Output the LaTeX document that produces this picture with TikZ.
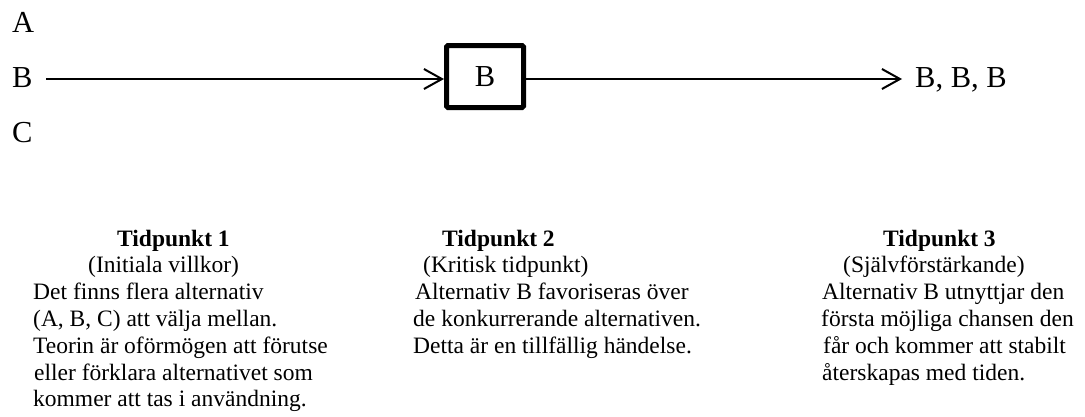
\documentclass[tikz,border=0pt]{standalone}
\usepackage{fontspec}
\setmainfont{Liberation Serif}
\usetikzlibrary{arrows.meta}
\begin{document}
\begin{tikzpicture}[x=1pt,y=-1pt,
  big/.style={font=\fontsize{30.5}{36}\selectfont, inner sep=0pt, anchor=base west},
  ln/.style={font=\fontsize{23.5}{27}\selectfont, inner sep=0pt, anchor=base west},
  ttl/.style={inner sep=0pt, anchor=base west, font=\fontsize{23.5}{27}\selectfont\bfseries},
  arr/.style={line width=2pt, -{Straight Barb[length=18pt,width=20pt]}},
  stage/.style={draw, line width=5pt, rounded corners=1.5pt, minimum width=77pt,
    minimum height=62pt, inner sep=0pt, font=\fontsize{30.5}{36}\selectfont}
]
\useasboundingbox (0,0) rectangle (1085,416);

% alternatives at the start
\node[big] (la) at (12,32) {A};
\node[big] (lb) at (12,87) {B};
\node[big] (lc) at (12,142.5) {C};

% the selected alternative and its outcome
\node[stage] (box) at (485,76.5) {B};
\node[big] (bbb) at (915,87) {B, B, B};

\coordinate (s) at (46,79);
\coordinate (e) at (902,79);
\draw[arr] (s) -- (box.west |- s);
\draw[arr] (box.east |- s) -- (e);

% stage 1
\node[ttl] (t1) at (117,246) {Tidpunkt 1};
\node[ln] (t1a) at (88,272.8) {(Initiala villkor)};
\node[ln] (t1b) at (33,299.6) {Det finns flera alternativ};
\node[ln] (t1c) at (33,326.4) {(A, B, C) att välja mellan.};
\node[ln] (t1d) at (33,353.2) {Teorin är oförmögen att förutse};
\node[ln] (t1e) at (34,380) {eller förklara alternativet som};
\node[ln] (t1f) at (33,406.8) {kommer att tas i användning.};

% stage 2
\node[ttl] (t2) at (442,246) {Tidpunkt 2};
\node[ln] (t2a) at (423,272.8) {(Kritisk tidpunkt)};
\node[ln] (t2b) at (415,299.6) {Alternativ B favoriseras över};
\node[ln] (t2c) at (413,326.4) {de konkurrerande alternativen.};
\node[ln] (t2d) at (413,353.2) {Detta är en tillfällig händelse.};

% stage 3
\node[ttl] (t3) at (883,246) {Tidpunkt 3};
\node[ln] (t3a) at (843,272.8) {(Självförstärkande)};
\node[ln] (t3b) at (822,299.6) {Alternativ B utnyttjar den};
\node[ln] (t3c) at (821,326.4) {första möjliga chansen den};
\node[ln] (t3d) at (823,353.2) {får och kommer att stabilt};
\node[ln] (t3e) at (822,380) {återskapas med tiden.};
\end{tikzpicture}
\end{document}
